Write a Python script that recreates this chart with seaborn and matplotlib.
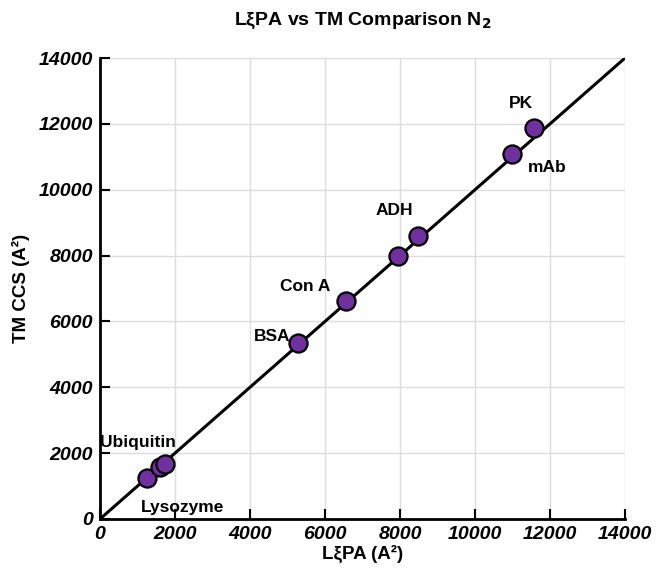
import matplotlib
matplotlib.use("Agg")
import matplotlib.pyplot as plt
import seaborn as sns
import pandas as pd

# Data
proteins = ["Lysozyme", "Ubiquitin", "Ubiquitin2", "BSA", "Con A", "P8000", "ADH", "mAb", "PK"]
lxipa = [1260, 1600, 1730, 5290, 6550, 7950, 8480, 10980, 11560]
tm_ccs = [1230, 1590, 1670, 5340, 6630, 7990, 8590, 11100, 11860]
fit_x = [0, 14000]
fit_y = [0, 14000]
ticks = [0, 2000, 4000, 6000, 8000, 10000, 12000, 14000]

sns.set_theme(style="white")
plt.rcParams['font.family'] = ['Liberation Sans', 'DejaVu Sans']

fig = plt.figure(figsize=(6.57, 5.75), dpi=100)
ax = fig.add_axes([0.1522, 0.0974, 0.7991, 0.8017])

df = pd.DataFrame({"x": lxipa, "y": tm_ccs})
line_df = pd.DataFrame({"x": fit_x, "y": fit_y})
sns.lineplot(data=line_df, x="x", y="y", ax=ax, color="black", linewidth=2.2, zorder=2)
sns.scatterplot(data=df, x="x", y="y", ax=ax, s=170, color="#7030A0",
                edgecolor="black", linewidth=1.6, zorder=3, clip_on=False)

ax.set_xlim(0, 14000)
ax.set_ylim(0, 14000)
ax.set_xticks(ticks)
ax.set_yticks(ticks)
ax.set_xticklabels([str(t) for t in ticks], fontsize=14, fontweight="bold", fontstyle="italic", color="black")
ax.set_yticklabels([str(t) for t in ticks], fontsize=14, fontweight="bold", fontstyle="italic", color="black")
ax.grid(True, color="#dddddd", linewidth=1)
ax.set_axisbelow(True)
ax.tick_params(axis="both", direction="in", length=7, width=1.5, color="black", pad=5,
               bottom=True, left=True)
for s in ["top", "right"]:
    ax.spines[s].set_visible(False)
for s in ["left", "bottom"]:
    ax.spines[s].set_color("black")
    ax.spines[s].set_linewidth(2)

ax.set_xlabel("LξPA (A²)", fontsize=13.5, fontweight="bold", labelpad=1, color="black")
ax.set_ylabel("TM CCS (A²)", fontsize=13.5, fontweight="bold", labelpad=6, color="black")
ax.set_title("LξPA vs TM Comparison N$_\\mathbf{2}$", fontsize=14, fontweight="bold", pad=24, color="black")

lab = dict(fontsize=12.5, fontweight="bold", color="black")
ax.text(0, 2330, "Ubiquitin", ha="left", va="center", **lab)
ax.text(1100, 350, "Lysozyme", ha="left", va="center", **lab)
ax.text(5090, 5540, "BSA", ha="right", va="center", **lab)
ax.text(6150, 7060, "Con A", ha="right", va="center", **lab)
ax.text(7850, 9380, "ADH", ha="center", va="center", **lab)
ax.text(11230, 12620, "PK", ha="center", va="center", **lab)
ax.text(11400, 10680, "mAb", ha="left", va="center", **lab)

fig.savefig("out.png", dpi=100)
